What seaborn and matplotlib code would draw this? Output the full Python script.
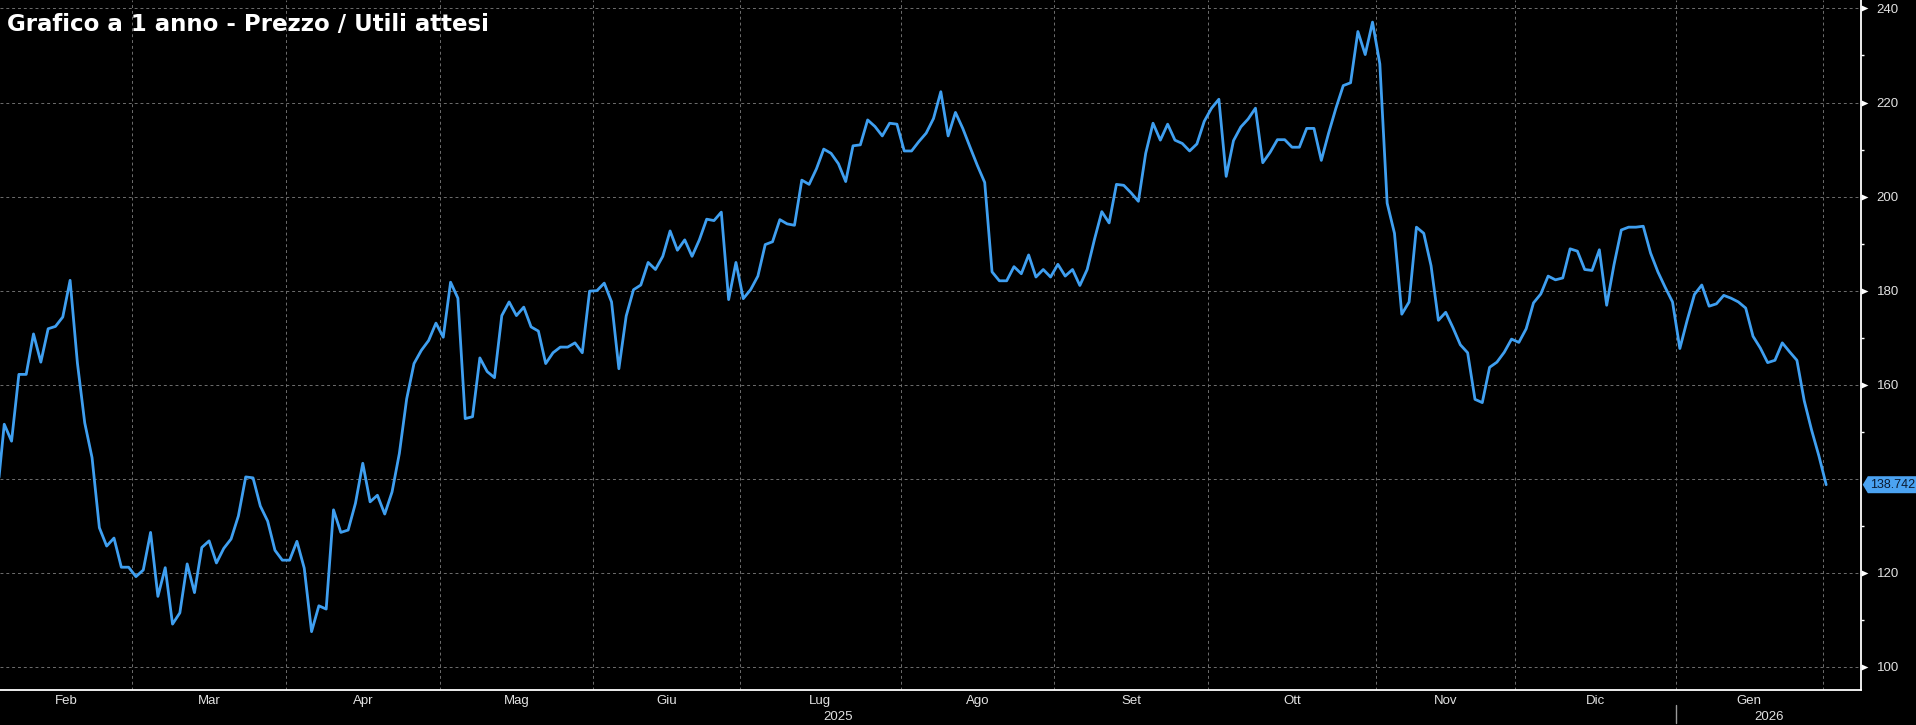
import numpy as np
import pandas as pd
import seaborn as sns
import matplotlib.pyplot as plt
from matplotlib.path import Path
from matplotlib.transforms import blended_transform_factory

# 1 year of daily P/E, US trading calendar
start_date = '2025-02-03'
end_date = '2026-02-02'
market_holidays = ['2025-02-17', '2025-04-18', '2025-05-26', '2025-06-19', '2025-07-04',
                   '2025-09-01', '2025-11-27', '2025-12-25', '2026-01-01', '2026-01-19']

pe_ratio = [
    135.8, 151.6, 148.0, 162.2, 162.2, 170.8, 164.8, 171.9, 172.4, 174.4,
    182.2, 164.6, 151.9, 144.5, 129.6, 125.7, 127.4, 121.2, 121.2, 119.2,
    120.6, 128.6, 115.0, 121.1, 109.1, 111.5, 121.9, 115.8, 125.4, 126.8,
    122.1, 125.2, 127.2, 132.1, 140.4, 140.2, 134.2, 131.0, 124.8, 122.7,
    122.7, 126.7, 121.0, 107.5, 113.0, 112.3, 133.4, 128.6, 129.1, 134.8,
    143.3, 135.1, 136.5, 132.5, 137.2, 145.4, 157.0, 164.5, 167.3, 169.4,
    173.1, 170.1, 181.8, 178.4, 152.8, 153.2,
    165.7, 162.8, 161.5, 174.7, 177.6, 174.7, 176.5, 172.3, 171.4, 164.5,
    166.8, 168.0, 168.0, 168.9, 166.8, 179.9, 180.0, 181.6, 177.6, 163.4,
    174.6, 180.2, 181.2, 186.0, 184.5, 187.3, 192.7, 188.6, 190.8, 187.3,
    190.8, 195.2, 194.9, 196.7, 178.1, 186.0, 178.3, 180.2, 183.1, 189.8,
    190.4, 195.1, 194.2, 193.9, 203.5, 202.6, 205.9, 210.1, 209.2, 207.0,
    203.2, 210.8, 211.0, 216.3, 214.9, 212.9, 215.6, 215.4, 209.7, 209.7,
    211.7, 213.5, 216.6,
    222.3, 212.9, 217.9, 214.5, 210.5, 206.6, 203.0, 184.0, 182.1, 182.1,
    185.1, 183.6, 187.6, 182.9, 184.5, 182.9, 185.6, 183.1, 184.5, 181.1,
    184.5, 190.9, 196.8, 194.4, 202.6, 202.4, 200.8, 199.0, 209.2, 215.6,
    212.0, 215.4, 212.0, 211.3, 209.7, 211.2, 216.0, 218.8, 220.7, 204.3,
    211.9, 214.8, 216.5, 218.8, 207.2, 209.4, 212.1, 212.1, 210.5, 210.5,
    214.5, 214.5, 207.7, 213.5, 218.8, 223.6, 224.2, 235.1, 230.2, 237.1,
    228.2, 198.6, 192.2,
    175.0, 177.6, 193.5, 192.2, 185.3, 173.7, 175.4, 172.1, 168.5, 166.8,
    156.9, 156.2, 163.7, 164.8, 166.9, 169.7, 169.0, 171.9, 177.4, 179.3,
    183.1, 182.3, 182.7, 188.9, 188.4, 184.5, 184.3, 188.7, 176.9, 185.5,
    192.9, 193.5, 193.5, 193.7, 188.0, 184.0, 180.7, 177.6, 167.7, 173.7,
    179.2, 181.2, 176.7, 177.2, 179.0, 178.4, 177.6, 176.3, 170.3, 167.8,
    164.7, 165.2, 168.9, 167.0, 165.2, 156.6, 150.4, 144.9, 138.742,
]

mesi = ['Gen', 'Feb', 'Mar', 'Apr', 'Mag', 'Giu', 'Lug', 'Ago', 'Set', 'Ott', 'Nov', 'Dic']
y_ticks = [100, 120, 140, 160, 180, 200, 220, 240]
y_minor = [110, 130, 150, 170, 190, 210, 230]
title = 'Grafico a 1 anno - Prezzo / Utili attesi'

LINE = '#3f9ff0'
GRID = '#6e6e6e'
TXT = '#e2e2e2'

days = pd.bdate_range(start_date, end_date, freq='C', holidays=market_holidays)
df = pd.DataFrame({'date': days, 'pos': np.arange(len(days)), 'pe': pe_ratio})
last = pe_ratio[-1]

sns.set_style('dark', {'axes.facecolor': 'black', 'figure.facecolor': 'black'})
plt.rcParams['font.family'] = ['Liberation Sans', 'DejaVu Sans']

fig = plt.figure(figsize=(19.16, 7.25), dpi=100)
ax = fig.add_axes([0, 35.5 / 725, 1861.3 / 1916, 689.5 / 725])
ax.set_facecolor('black')

sns.lineplot(data=df, x='pos', y='pe', ax=ax, color=LINE, linewidth=2.0)

xmin, xmax = 0.42, 254.8
ax.set_xlim(xmin, xmax)
ax.set_ylim(95.2, 241.8)

# month boundaries (first trading day of each month)
month_id = df['date'].dt.year * 12 + df['date'].dt.month
starts = df.index[month_id.diff().fillna(0) != 0].tolist()
bounds = [s - 0.5 for s in starts]
edges = [xmin] + bounds + [xmax]
centers, labels = [], []
for i in range(len(edges) - 2):
    centers.append((edges[i] + edges[i + 1]) / 2)
    labels.append(mesi[df['date'][int(np.ceil(edges[i]))].month - 1])

ax.set_xticks(bounds, labels=[''] * len(bounds))
ax.set_xticks(centers, labels=labels, minor=True)
ax.tick_params(axis='x', which='major', direction='inout', length=4.5, width=1, color='#dddddd')
ax.tick_params(axis='x', which='minor', length=0, pad=4, labelsize=9.5, labelcolor=TXT)

# the 140 label sits under the last-value tag
shown = [t for t in y_ticks if abs(t - last) > 5]
ax.yaxis.tick_right()
ax.set_yticks(y_ticks, labels=[str(t) if t in shown else '' for t in y_ticks])
ax.set_yticks(y_minor, minor=True)
ax.tick_params(axis='y', which='major', length=0, pad=11, labelsize=9.5, labelcolor=TXT)
ax.tick_params(axis='y', which='minor', length=2.4, width=1, color='white', direction='out')

ax.grid(which='major', axis='both', color=GRID, linewidth=0.7, linestyle=(0, (3, 3)))
ax.grid(which='minor', visible=False)

for s in ['top', 'left']:
    ax.spines[s].set_visible(False)
for s in ['right', 'bottom']:
    ax.spines[s].set_color('white')
    ax.spines[s].set_linewidth(1.3)

ax.set_xlabel('')
ax.set_ylabel('')

# triangle markers on the right axis
ty = blended_transform_factory(ax.transAxes, ax.transData)
ax.plot(np.ones(len(shown)), shown, transform=ty, ls='none',
        marker=[(0, -0.45), (1, 0), (0, 0.45)], ms=10, mew=0, color='white', clip_on=False)

# year row
tx = blended_transform_factory(ax.transData, ax.transAxes)
jan = bounds[[df['date'][s].month for s in starts].index(1)]
ax.text((xmin + jan) / 2, -0.040, '2025', transform=tx, ha='center', va='center', fontsize=9.5, color=TXT)
ax.text((jan + xmax) / 2, -0.040, '2026', transform=tx, ha='center', va='center', fontsize=9.5, color=TXT)
ax.plot([jan, jan], [-0.0225, -0.0486], transform=tx, color='#9a9a9a', lw=1, clip_on=False)


# last value tag: box with a pointed left end
def tag_box(x0, y0, width, height, mutation_size):
    pad = 0.2 * mutation_size
    x0, y0 = x0 - pad, y0 - pad
    width, height = width + 2 * pad, height + 2 * pad
    tip = 0.3 * height
    verts = [(x0 - tip, y0 + height / 2), (x0, y0), (x0 + width, y0),
             (x0 + width, y0 + height), (x0, y0 + height), (x0 - tip, y0 + height / 2)]
    return Path(verts, closed=True)


ax.annotate(f'{last:.3f}', xy=(1, last), xycoords=ty, xytext=(6.5, 0), textcoords='offset points',
            ha='left', va='center', fontsize=9, color='#0b1a30',
            bbox=dict(boxstyle=tag_box, fc='#4ba3f2', ec='none'))

fig.text(7.3 / 1916, 1 - 30.7 / 725, title, fontsize=16.5, fontweight='bold', color='white',
         family='DejaVu Sans', ha='left', va='baseline')

fig.savefig('out.png', dpi=100, facecolor='black')
